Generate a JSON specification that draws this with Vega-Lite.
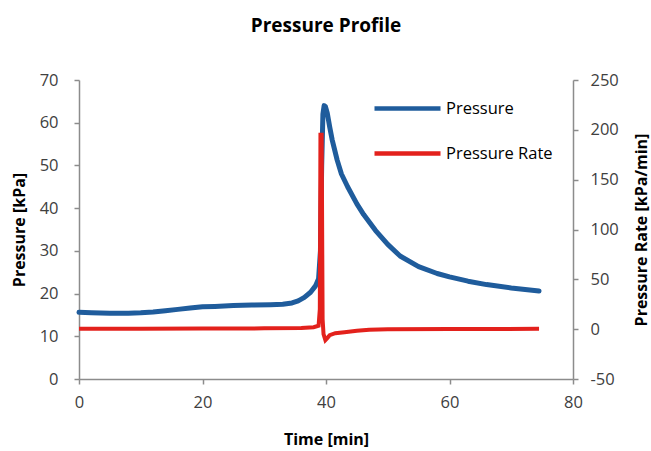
{
  "$schema": "https://vega.github.io/schema/vega-lite/v6.json",
  "autosize": "none",
  "width": 494,
  "height": 299,
  "padding": {"left": 79, "top": 80, "right": 78, "bottom": 72},
  "background": "white",
  "config": {
    "font": "Open Sans",
    "view": {"stroke": null},
    "axis": {
      "grid": false,
      "domainColor": "#8c8c8c",
      "tickColor": "#8c8c8c",
      "domainWidth": 1.5,
      "tickWidth": 1.5,
      "tickSize": 5,
      "labelColor": "#404040",
      "labelFontSize": 16.5,
      "labelFont": "Open Sans",
      "titleColor": "#000000",
      "titleFont": "Open Sans",
      "titleFontSize": 16,
      "titleFontWeight": "bold"
    }
  },
  "title": {
    "text": "Pressure Profile",
    "fontSize": 19,
    "fontWeight": "bold",
    "font": "Open Sans",
    "color": "#000000",
    "offset": 36
  },
  "data": {
    "values": [
      {"series": "Pressure", "t": 0, "v": 15.6},
      {"series": "Pressure", "t": 2, "v": 15.5},
      {"series": "Pressure", "t": 5, "v": 15.4},
      {"series": "Pressure", "t": 8, "v": 15.4},
      {"series": "Pressure", "t": 10, "v": 15.5},
      {"series": "Pressure", "t": 12, "v": 15.7},
      {"series": "Pressure", "t": 14, "v": 16.0},
      {"series": "Pressure", "t": 16, "v": 16.3},
      {"series": "Pressure", "t": 18, "v": 16.6},
      {"series": "Pressure", "t": 20, "v": 16.9},
      {"series": "Pressure", "t": 22, "v": 17.0},
      {"series": "Pressure", "t": 25, "v": 17.2},
      {"series": "Pressure", "t": 28, "v": 17.3},
      {"series": "Pressure", "t": 31, "v": 17.4},
      {"series": "Pressure", "t": 33, "v": 17.5},
      {"series": "Pressure", "t": 34.5, "v": 17.8},
      {"series": "Pressure", "t": 35.5, "v": 18.3},
      {"series": "Pressure", "t": 36.5, "v": 19.1},
      {"series": "Pressure", "t": 37.5, "v": 20.3},
      {"series": "Pressure", "t": 38.3, "v": 21.8},
      {"series": "Pressure", "t": 38.8, "v": 23.5},
      {"series": "Pressure", "t": 39.1, "v": 30},
      {"series": "Pressure", "t": 39.3, "v": 50},
      {"series": "Pressure", "t": 39.5, "v": 62},
      {"series": "Pressure", "t": 39.7, "v": 64.0},
      {"series": "Pressure", "t": 39.9, "v": 63.8},
      {"series": "Pressure", "t": 40.2, "v": 62.3},
      {"series": "Pressure", "t": 40.6, "v": 59},
      {"series": "Pressure", "t": 41, "v": 56},
      {"series": "Pressure", "t": 41.8, "v": 51.3},
      {"series": "Pressure", "t": 42.5, "v": 48},
      {"series": "Pressure", "t": 43.5, "v": 45},
      {"series": "Pressure", "t": 45, "v": 41},
      {"series": "Pressure", "t": 46.1, "v": 38.5},
      {"series": "Pressure", "t": 48, "v": 34.8},
      {"series": "Pressure", "t": 50, "v": 31.5},
      {"series": "Pressure", "t": 52, "v": 28.8},
      {"series": "Pressure", "t": 55, "v": 26.3},
      {"series": "Pressure", "t": 58, "v": 24.7},
      {"series": "Pressure", "t": 60, "v": 23.9},
      {"series": "Pressure", "t": 63, "v": 22.9},
      {"series": "Pressure", "t": 66, "v": 22.1},
      {"series": "Pressure", "t": 70, "v": 21.3},
      {"series": "Pressure", "t": 74.5, "v": 20.6},
      {"series": "Pressure Rate", "t": 0, "v": 0.5},
      {"series": "Pressure Rate", "t": 10, "v": 0.5},
      {"series": "Pressure Rate", "t": 20, "v": 0.6},
      {"series": "Pressure Rate", "t": 30, "v": 0.8},
      {"series": "Pressure Rate", "t": 36, "v": 1.2},
      {"series": "Pressure Rate", "t": 38, "v": 2},
      {"series": "Pressure Rate", "t": 38.8, "v": 3.5},
      {"series": "Pressure Rate", "t": 39.0, "v": 20},
      {"series": "Pressure Rate", "t": 39.1, "v": 195},
      {"series": "Pressure Rate", "t": 39.3, "v": 195},
      {"series": "Pressure Rate", "t": 39.45, "v": 10},
      {"series": "Pressure Rate", "t": 39.6, "v": -5},
      {"series": "Pressure Rate", "t": 39.9, "v": -11},
      {"series": "Pressure Rate", "t": 40.2, "v": -9},
      {"series": "Pressure Rate", "t": 40.6, "v": -6},
      {"series": "Pressure Rate", "t": 41.5, "v": -4},
      {"series": "Pressure Rate", "t": 43, "v": -3},
      {"series": "Pressure Rate", "t": 45, "v": -1.5},
      {"series": "Pressure Rate", "t": 47, "v": -0.5},
      {"series": "Pressure Rate", "t": 50, "v": 0},
      {"series": "Pressure Rate", "t": 60, "v": 0.2},
      {"series": "Pressure Rate", "t": 74.5, "v": 0.3}
    ]
  },
  "encoding": {
    "x": {
      "field": "t",
      "type": "quantitative",
      "scale": {"domain": [0, 80], "nice": false},
      "axis": {"values": [0, 20, 40, 60, 80], "title": "Time [min]", "labelFlush": false, "labelPadding": 10, "titlePadding": 21}
    },
    "color": {
      "field": "series",
      "type": "nominal",
      "scale": {"domain": ["Pressure", "Pressure Rate"], "range": ["#1f5c9c", "#e3211c"]},
      "legend": {
        "title": null,
        "orient": "none",
        "legendX": 293,
        "legendY": -7,
        "symbolType": "stroke",
        "symbolSize": 4356,
        "symbolStrokeWidth": 4.5,
        "labelFontSize": 16.5,
        "labelColor": "#000000",
        "labelFont": "Open Sans",
        "labelOffset": 3,
        "rowPadding": -7
      }
    }
  },
  "layer": [
    {
      "transform": [{"filter": "datum.series === 'Pressure'"}],
      "mark": {"type": "line", "strokeWidth": 5, "strokeCap": "round", "strokeJoin": "round"},
      "encoding": {
        "y": {
          "field": "v",
          "type": "quantitative",
          "scale": {"domain": [0, 70], "nice": false},
          "axis": {"values": [0, 10, 20, 30, 40, 50, 60, 70], "title": "Pressure [kPa]", "orient": "left", "labelPadding": 16, "titlePadding": 12}
        }
      }
    },
    {
      "transform": [{"filter": "datum.series === 'Pressure Rate'"}],
      "mark": {"type": "line", "strokeWidth": 4},
      "encoding": {
        "y": {
          "field": "v",
          "type": "quantitative",
          "scale": {"domain": [-50, 250], "nice": false},
          "axis": {"values": [-50, 0, 50, 100, 150, 200, 250], "labelExpr": "'' + datum.value", "title": "Pressure Rate [kPa/min]", "orient": "right", "titleAngle": 270, "labelPadding": 12, "titlePadding": 31}
        }
      }
    }
  ],
  "resolve": {"scale": {"y": "independent"}}
}
